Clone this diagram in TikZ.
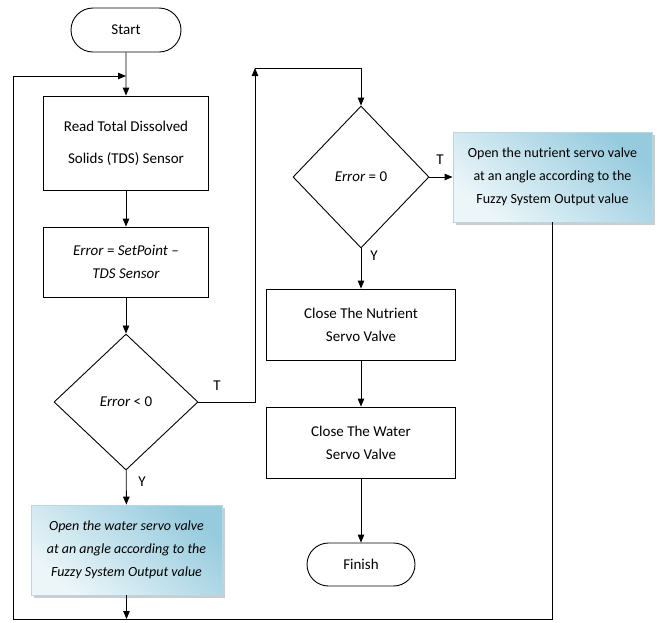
\documentclass[tikz,border=0pt]{standalone}
\usepackage{fontspec}
\setmainfont{Carlito}
\usetikzlibrary{shapes.misc,shapes.geometric,arrows.meta,shadows}
\definecolor{valvedark}{RGB}{150,203,222}
\definecolor{valvelight}{RGB}{236,246,249}
\definecolor{valveedge}{RGB}{185,215,226}

\begin{document}
\begin{tikzpicture}[x=1pt,y=-1pt,line width=0.9pt,>={Triangle[length=8pt,width=6.5pt]},
	every node/.style={font=\fontsize{15}{23}\selectfont},
	proc/.style={draw,rectangle,align=center,inner sep=0pt},
	term/.style={draw,rounded rectangle,inner sep=0pt},
	test/.style={draw,diamond,inner sep=0pt,aspect=1},
	valve/.style={proc,draw=valveedge,top color=valvedark,bottom color=valvelight,shading angle=-40,
		drop shadow={opacity=0.4,shadow xshift=2.5pt,shadow yshift=-2.5pt}},
	valvetext/.style={font=\fontsize{14}{23}\selectfont}]
	\useasboundingbox (0,0) rectangle (659,622);
	\node[term,minimum width=110pt,minimum height=44pt] (start) at (126,30) {Start};
	\node[proc,minimum width=165pt,minimum height=94pt] (read) at (126,143) {Read Total Dissolved\\[9pt]Solids (TDS) Sensor};
	\node[proc,minimum width=165pt,minimum height=70pt] (err) at (126,262) {\textit{Error} = \textit{SetPoint –}\\\textit{TDS Sensor}};
	\node[test,minimum width=144pt,minimum height=136pt] (lt) at (126,402) {\textit{Error} < 0};
	\node[valve,valvetext,minimum width=191pt,minimum height=90pt] (wbox) at (126.5,550) {\textit{Open the water servo valve}\\\textit{at an angle according to the}\\\textit{Fuzzy System Output value}};
	\node[test,minimum width=136pt,minimum height=142pt] (eq) at (361,177) {\textit{Error} = 0};
	\node[valve,valvetext,minimum width=199pt,minimum height=90pt] (nbox) at (552.5,177) {Open the nutrient servo valve\\at an angle according to the\\Fuzzy System Output value};
	\node[proc,minimum width=189pt,minimum height=71pt] (cn) at (361,324.5) {Close The Nutrient\\Servo Valve};
	\node[proc,minimum width=189pt,minimum height=71pt] (cw) at (361,442.5) {Close The Water\\Servo Valve};
	\node[term,minimum width=108pt,minimum height=43pt] (fin) at (361,564.5) {Finish};
	\node (t1) at (217,386) {T};
	\node (t2) at (440,160) {T};
	\node (y1) at (142,482) {Y};
	\node (y2) at (374,256) {Y};
	\coordinate (tl) at (13,76);
	\coordinate (bl) at (13,619);
	\coordinate (up) at (255,68);
	\draw[->] (start) -- (read);
	\draw[->] (read) -- (err);
	\draw[->] (err) -- (lt);
	\draw[->] (lt) -- (wbox);
	\draw[->] (wbox.south) -- (wbox.south |- bl);
	\draw[->] (nbox.south) |- (bl) -- (tl) -- (tl -| read.north);
	\draw[->] (lt.east) -| (up);
	\draw[->] (up) -| (eq.north);
	\draw[->] (eq.east) -- (nbox.west);
	\draw[->] (eq) -- (cn);
	\draw[->] (cn) -- (cw);
	\draw[->] (cw) -- (fin);
\end{tikzpicture}
\end{document}
